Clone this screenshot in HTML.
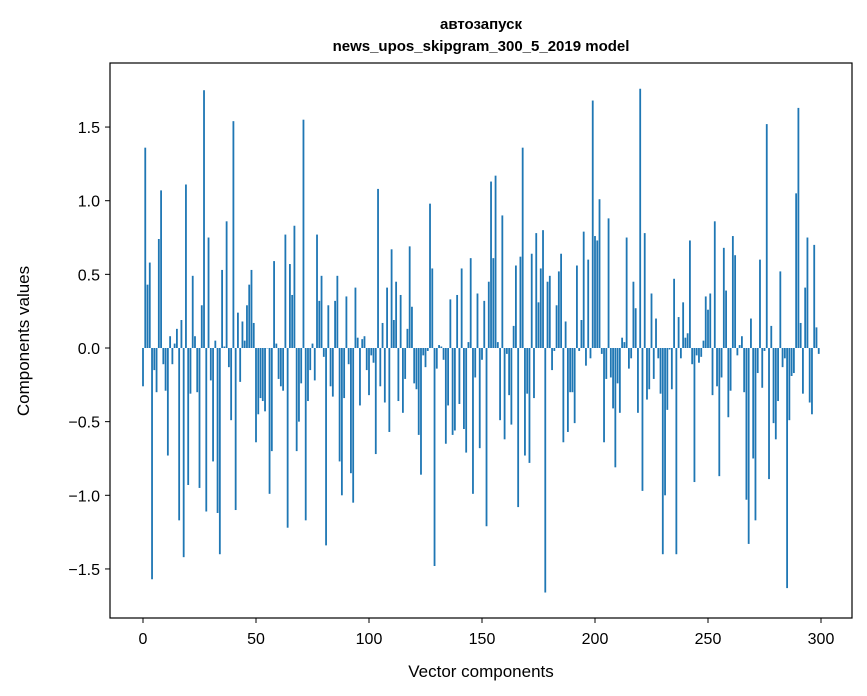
<!DOCTYPE html>
<html><head><meta charset="utf-8"><style>
body{margin:0;background:#fff;}
svg{display:block;font-family:"Liberation Sans","DejaVu Sans",sans-serif;}
</style></head><body>
<svg id="chart" width="867" height="696">
<text x="481" y="29" text-anchor="middle" font-size="15" font-weight="bold">автозапуск</text>
<text x="481" y="51" text-anchor="middle" font-size="15" font-weight="bold">news_upos_skipgram_300_5_2019 model</text>
<g id="bars"></g>
<rect x="110" y="63" width="742" height="555" fill="none" stroke="#000" stroke-width="1.2"/>
<g id="xticks"></g>
<g id="yticks"></g>
<text x="481" y="677" text-anchor="middle" font-size="17">Vector components</text>
<text transform="translate(29,341) rotate(-90)" text-anchor="middle" font-size="17">Components values</text>
</svg>
<script>
const values = [
-0.26,1.36,0.43,0.58,-1.57,-0.15,-0.30,0.74,1.07,-0.11,
-0.29,-0.73,0.08,-0.11,0.03,0.13,-1.17,0.19,-1.42,1.11,
-0.93,-0.31,0.49,0.08,-0.30,-0.95,0.29,1.75,-1.11,0.75,
-0.22,-0.77,0.05,-1.12,-1.40,0.53,0.01,0.86,-0.13,-0.49,
1.54,-1.10,0.24,-0.23,0.18,0.05,0.29,0.43,0.53,0.17,
-0.64,-0.45,-0.34,-0.36,-0.43,0.0,-0.99,-0.70,0.59,0.03,
-0.21,-0.26,-0.29,0.77,-1.22,0.57,0.36,0.83,-0.70,-0.50,
-0.24,1.55,-1.17,-0.36,-0.15,0.03,-0.22,0.77,0.32,0.49,
-0.06,-1.34,0.29,-0.26,-0.33,0.32,0.49,-0.77,-1.00,-0.34,
0.35,-0.11,-0.85,-1.05,0.41,0.07,-0.39,0.06,0.08,-0.15,
-0.32,-0.05,-0.10,-0.72,1.08,-0.26,0.17,-0.37,0.41,-0.57,
0.67,0.19,0.45,-0.36,0.36,-0.44,-0.21,0.13,0.69,0.28,
-0.24,-0.28,-0.59,-0.86,-0.05,-0.13,-0.02,0.98,0.54,-1.48,
-0.14,0.02,0.01,-0.08,-0.65,-0.39,0.33,-0.59,-0.56,0.36,
-0.38,0.54,-0.55,-0.71,0.04,0.61,-0.99,-0.20,0.37,-0.68,
-0.08,0.32,-1.21,0.45,1.13,0.61,1.17,0.04,-0.49,0.90,
-0.62,-0.04,-0.32,-0.52,0.15,0.56,-1.08,0.62,1.36,-0.73,
-0.31,-0.78,0.64,-0.34,0.78,0.31,0.54,0.80,-1.66,0.45,
0.49,-0.15,-0.02,0.29,0.52,0.64,-0.64,0.18,-0.57,-0.30,
-0.30,-0.51,0.56,-0.02,0.19,0.79,-0.12,0.60,-0.07,1.68,
0.76,0.73,1.01,-0.04,-0.64,-0.21,0.88,-0.20,-0.41,-0.81,
-0.24,-0.44,0.07,0.04,0.75,-0.14,-0.07,0.45,0.27,-0.44,
1.76,-0.97,0.78,-0.35,-0.28,0.37,-0.21,0.20,-0.07,-0.31,
-1.40,-1.00,-0.42,-0.01,-0.28,0.47,-1.40,0.21,-0.07,0.31,
0.07,0.10,0.73,-0.11,-0.91,-0.05,-0.10,-0.06,0.05,0.35,
0.26,0.37,-0.32,0.86,-0.26,-0.87,-0.20,0.68,0.39,-0.47,
-0.29,0.76,0.63,-0.05,0.02,0.08,-0.30,-1.03,-1.33,0.20,
-0.75,-1.17,-0.17,0.60,-0.27,-0.02,1.52,-0.89,0.15,-0.51,
-0.62,-0.36,0.52,-0.13,-0.07,-1.63,-0.49,-0.19,-0.17,1.05,
1.63,0.17,-0.31,0.41,0.75,-0.37,-0.45,0.70,0.14,-0.04
];
const xTicks = [0,50,100,150,200,250,300];
const yTicks = [-1.5,-1.0,-0.5,0.0,0.5,1.0,1.5];
const yTickLabels = ["−1.5","−1.0","−0.5","0.0","0.5","1.0","1.5"];

const NS="http://www.w3.org/2000/svg";
const X = v => 143 + v*2.26;
const Y = v => 348 - v*147.3;
const bars=document.getElementById('bars');
values.forEach((v,i)=>{
  const r=document.createElementNS(NS,'rect');
  const y0=Math.min(Y(v),Y(0)), h=Math.abs(Y(v)-Y(0));
  r.setAttribute('x',X(i-0.4));
  r.setAttribute('y',y0);
  r.setAttribute('width',2.26*0.8);
  r.setAttribute('height',Math.max(h,0.3));
  r.setAttribute('fill','#1f77b4');
  
  
  bars.appendChild(r);
});
const xg=document.getElementById('xticks');
xTicks.forEach(t=>{
  const l=document.createElementNS(NS,'line');
  l.setAttribute('x1',X(t));l.setAttribute('x2',X(t));
  l.setAttribute('y1',618);l.setAttribute('y2',623);
  l.setAttribute('stroke','#000');
  
  
  xg.appendChild(l);
  const tx=document.createElementNS(NS,'text');
  tx.setAttribute('x',X(t));tx.setAttribute('y',644);
  tx.setAttribute('text-anchor','middle');tx.setAttribute('font-size','16');
  tx.textContent=t;
  
  
  xg.appendChild(tx);
});
const yg=document.getElementById('yticks');
yTicks.forEach((t,k)=>{
  const l=document.createElementNS(NS,'line');
  l.setAttribute('x1',105);l.setAttribute('x2',110);
  l.setAttribute('y1',Y(t));l.setAttribute('y2',Y(t));
  l.setAttribute('stroke','#000');
  
  
  yg.appendChild(l);
  const tx=document.createElementNS(NS,'text');
  tx.setAttribute('x',100);tx.setAttribute('y',Y(t)+6);
  tx.setAttribute('text-anchor','end');tx.setAttribute('font-size','16');
  tx.textContent=yTickLabels[k];
  
  
  yg.appendChild(tx);
});
</script>
</body></html>
